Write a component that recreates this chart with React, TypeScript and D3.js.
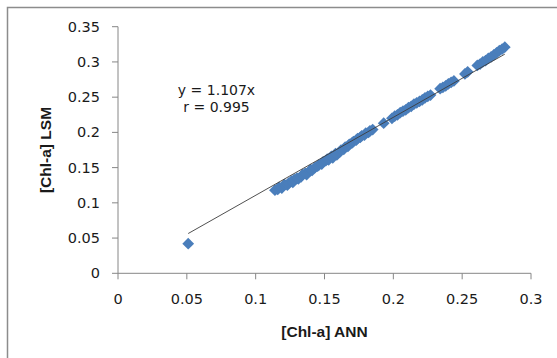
import React from "react";
import * as d3 from "d3";

const W = 557;
const H = 358;

const xTicks = [0, 0.05, 0.1, 0.15, 0.2, 0.25, 0.3];
const yTicks = [0, 0.05, 0.1, 0.15, 0.2, 0.25, 0.3, 0.35];
const xTickLabels = ["0", "0.05", "0.1", "0.15", "0.2", "0.25", "0.3"];
const yTickLabels = ["0", "0.05", "0.1", "0.15", "0.2", "0.25", "0.3", "0.35"];

const annXValues = [
  0.051,
  0.114, 0.116, 0.117, 0.119, 0.12, 0.121, 0.123, 0.124, 0.126, 0.127, 0.128, 0.13, 0.131,
  0.133, 0.134, 0.136, 0.137, 0.139, 0.14, 0.141, 0.143, 0.145, 0.146, 0.148, 0.149, 0.151,
  0.152, 0.153, 0.155, 0.156, 0.158, 0.159, 0.161, 0.162, 0.164, 0.165, 0.167, 0.168, 0.17,
  0.171, 0.173, 0.174, 0.176, 0.177, 0.179, 0.18, 0.182, 0.183, 0.185,
  0.193,
  0.199, 0.201, 0.203, 0.205, 0.207, 0.209, 0.211, 0.213, 0.215, 0.217, 0.219, 0.221, 0.223,
  0.225, 0.227,
  0.234, 0.236, 0.238, 0.24, 0.242, 0.244,
  0.252, 0.254,
  0.261, 0.263, 0.265, 0.267, 0.269, 0.271, 0.273, 0.275, 0.277, 0.279, 0.281,
];
const lsmYValues = [
  0.042,
  0.118, 0.119, 0.122, 0.121, 0.124, 0.126, 0.125, 0.128, 0.131, 0.129, 0.133, 0.135, 0.134,
  0.137, 0.14, 0.142, 0.14, 0.145, 0.147, 0.146, 0.15, 0.152, 0.154, 0.155, 0.158, 0.16,
  0.162, 0.161, 0.166, 0.164, 0.17, 0.168, 0.172, 0.175, 0.176, 0.179, 0.18, 0.183, 0.185,
  0.187, 0.189, 0.191, 0.193, 0.195, 0.196, 0.199, 0.2, 0.202, 0.204,
  0.213,
  0.22, 0.223, 0.225, 0.228, 0.23, 0.232, 0.235, 0.237, 0.24, 0.242, 0.244, 0.246, 0.249,
  0.251, 0.253,
  0.262, 0.264, 0.266, 0.269, 0.271, 0.273,
  0.283, 0.286,
  0.295, 0.297, 0.3, 0.302, 0.305, 0.307, 0.31, 0.313, 0.316, 0.318, 0.321,
];

const slope = 1.107;
const eqLabel = "y = 1.107x";
const rLabel = "r = 0.995";
const xTitle = "[Chl-a] ANN";
const yTitle = "[Chl-a] LSM";

export default function App() {
  const x = d3.scaleLinear().domain([0, 0.3]).range([118, 531]);
  const y = d3.scaleLinear().domain([0, 0.35]).range([273.3, 26.7]);
  const axisColor = "#868686";
  const textColor = "#1a1a1a";
  const font = "'DejaVu Sans', sans-serif";

  const pts = annXValues.map((v, i) => [v, lsmYValues[i]] as [number, number]);
  const xMin = d3.min(annXValues) as number;
  const xMax = d3.max(annXValues) as number;
  const line = d3
    .line<number>()
    .x((d) => x(d))
    .y((d) => y(slope * d));

  const diamond = d3.symbol().type(d3.symbolDiamond2).size(88)();

  return (
    <svg
      width={W}
      height={H}
      style={{ position: "fixed", left: 0, top: 0, background: "#fff" }}
    >
      <rect x={0} y={0} width={W} height={H} fill="#fff" />
      <rect
        x={7.5}
        y={7.5}
        width={W + 20}
        height={H + 20}
        fill="none"
        stroke="#8c8c8c"
        strokeWidth={1.5}
      />
      {/* y axis */}
      <line x1={x(0)} x2={x(0)} y1={y(0)} y2={y(0.35)} stroke={axisColor} />
      {yTicks.map((t, i) => (
        <g key={"yt" + i}>
          <line x1={x(0) - 6} x2={x(0)} y1={y(t)} y2={y(t)} stroke={axisColor} />
          <text
            x={100}
            y={y(t)}
            dy="0.35em"
            textAnchor="end"
            fontFamily={font}
            fontSize={14.5}
            fill={textColor}
          >
            {yTickLabels[i]}
          </text>
        </g>
      ))}
      {/* x axis */}
      <line x1={x(0)} x2={x(0.3)} y1={y(0)} y2={y(0)} stroke={axisColor} />
      {xTicks.map((t, i) => (
        <g key={"xt" + i}>
          <line x1={x(t)} x2={x(t)} y1={y(0)} y2={y(0) + 6} stroke={axisColor} />
          <text
            x={x(t)}
            y={303.5}
            textAnchor="middle"
            fontFamily={font}
            fontSize={14.5}
            fill={textColor}
          >
            {xTickLabels[i]}
          </text>
        </g>
      ))}
      {/* points */}
      {pts.map((p, i) => (
        <path
          key={"p" + i}
          d={diamond as string}
          transform={`translate(${x(p[0])},${y(p[1])})`}
          fill="#4a7ebb"
        />
      ))}
      {/* trend line */}
      <path
        d={line([xMin, xMax]) as string}
        fill="none"
        stroke="#3c3c3c"
        strokeWidth={0.9}
      />
      {/* annotation */}
      <text x={216.5} y={95} textAnchor="middle" fontFamily={font} fontSize={14} fill={textColor}>
        {eqLabel}
      </text>
      <text x={216.5} y={112} textAnchor="middle" fontFamily={font} fontSize={14} fill={textColor}>
        {rLabel}
      </text>
      {/* titles */}
      <text
        x={324.5}
        y={337}
        textAnchor="middle"
        fontFamily="'Liberation Sans', Arial, sans-serif"
        fontWeight="bold"
        fontSize={15.5}
        fill={textColor}
      >
        {xTitle}
      </text>
      <text
        transform={`translate(51,150) rotate(-90)`}
        textAnchor="middle"
        fontFamily="'Liberation Sans', Arial, sans-serif"
        fontWeight="bold"
        fontSize={15.5}
        fill={textColor}
      >
        {yTitle}
      </text>
    </svg>
  );
}
